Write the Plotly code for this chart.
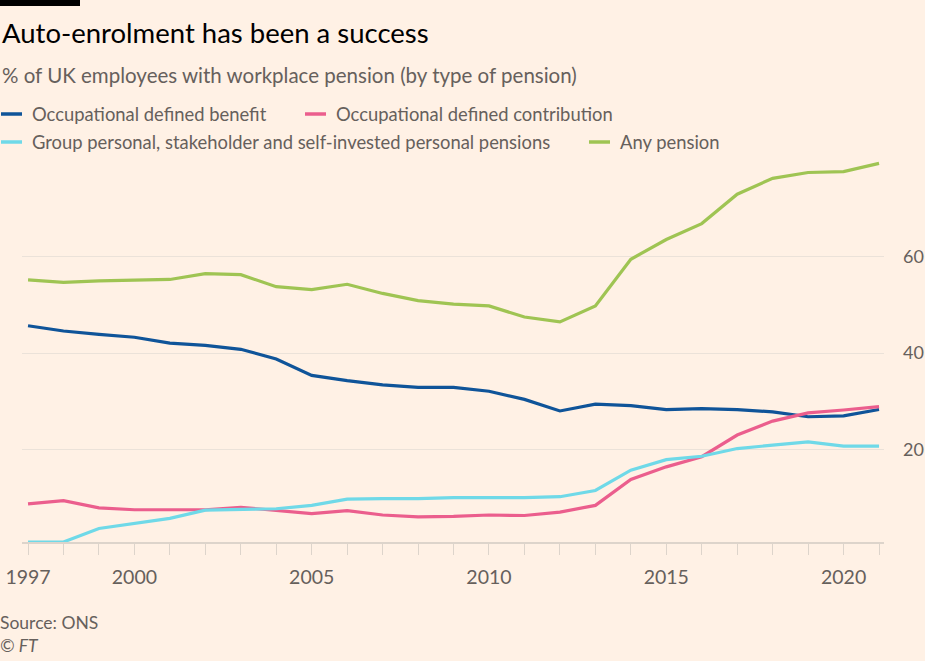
import plotly.graph_objects as go

years = list(range(1997, 2022))

occupational_db = [45.7, 44.6, 43.9, 43.3, 42.1, 41.6, 40.8, 38.8, 35.4, 34.3, 33.4, 32.9,
                   32.9, 32.1, 30.4, 28.0, 29.4, 29.1, 28.3, 28.5, 28.3, 27.8, 26.8, 27.0, 28.3]
occupational_dc = [8.7, 9.4, 7.9, 7.5, 7.5, 7.5, 8.0, 7.4, 6.7, 7.3, 6.4, 6.0,
                   6.1, 6.4, 6.3, 7.0, 8.4, 13.8, 16.4, 18.5, 23.0, 25.9, 27.6, 28.2, 28.9]
group_personal = [0.8, 0.8, 3.6, 4.6, 5.7, 7.4, 7.5, 7.7, 8.4, 9.7, 9.8, 9.8,
                  10.0, 10.0, 10.0, 10.2, 11.5, 15.7, 17.9, 18.6, 20.2, 20.9, 21.6, 20.7, 20.7]
any_pension = [55.2, 54.7, 55.0, 55.2, 55.3, 56.5, 56.3, 53.8, 53.2, 54.3, 52.4, 50.9,
               50.2, 49.8, 47.5, 46.5, 49.8, 59.5, 63.6, 66.9, 73.0, 76.3, 77.5, 77.7, 79.4]

series_names = ["Occupational defined benefit", "Occupational defined contribution",
                "Group personal, stakeholder and self-invested personal pensions", "Any pension"]
series_values = [occupational_db, occupational_dc, group_personal, any_pension]
series_colors = ["#0f5499", "#eb5e8d", "#6fd9e8", "#9fc453"]

x_tick_labels = {1997: "1997", 2000: "2000", 2005: "2005", 2010: "2010", 2015: "2015", 2020: "2020"}
y_ticks = [20, 40, 60]

W, H = 925, 661
ML, MR, MT, MB = 22, 41, 160, 119
PW, PH = W - ML - MR, H - MT - MB

def px(x):
    return (x - ML) / PW

def py(y):
    return (H - MB - y) / PH

FONT = "Lato"
TEXT = "#66605c"
BG = "#fff1e5"

fig = go.Figure()
for name, vals, col in zip(series_names, series_values, series_colors):
    fig.add_trace(go.Scatter(x=years, y=vals, mode="lines", name=name,
                             line=dict(color=col, width=3.2), showlegend=False,
                             hoverinfo="x+y+name"))

shapes = [dict(type="rect", xref="paper", yref="paper", x0=px(0), x1=px(80), y0=py(6), y1=py(0),
               fillcolor="#000000", line=dict(width=0))]
annotations = [
    dict(text="Auto-enrolment has been a success", x=px(0), y=py(33), xref="paper", yref="paper",
         xanchor="left", yanchor="middle", showarrow=False, font=dict(family=FONT, size=27.5, color="#000000")),
    dict(text="% of UK employees with workplace pension (by type of pension)", x=px(0), y=py(75),
         xref="paper", yref="paper", xanchor="left", yanchor="middle", showarrow=False,
         font=dict(family=FONT, size=20.5, color=TEXT)),
    dict(text="Source: ONS", x=px(-2), y=py(622), xref="paper", yref="paper", xanchor="left",
         yanchor="middle", showarrow=False, font=dict(family=FONT, size=17.5, color=TEXT)),
    dict(text="<i>© FT</i>", x=px(-2), y=py(645), xref="paper", yref="paper", xanchor="left",
         yanchor="middle", showarrow=False, font=dict(family=FONT, size=17.5, color=TEXT)),
]

legend_pos = [(1, 114), (305, 114), (1, 142), (589, 142)]
for (lx, ly), name, col in zip(legend_pos, series_names, series_colors):
    shapes.append(dict(type="line", xref="paper", yref="paper", x0=px(lx), x1=px(lx + 21),
                       y0=py(ly), y1=py(ly), line=dict(color=col, width=3.5)))
    annotations.append(dict(text=name, x=px(lx + 29), y=py(ly), xref="paper", yref="paper",
                            xanchor="left", yanchor="middle", showarrow=False,
                            font=dict(family=FONT, size=18.4, color=TEXT)))

fig.update_layout(
    width=W, height=H,
    margin=dict(l=ML, r=MR, t=MT, b=MB, autoexpand=False),
    paper_bgcolor=BG, plot_bgcolor=BG,
    shapes=shapes, annotations=annotations,
    showlegend=False,
    xaxis=dict(range=[1996.83, 2021.14], tickvals=years,
               ticktext=[x_tick_labels.get(y, "") for y in years],
               ticks="outside", ticklen=11, tickcolor="#ddd4cb", tickwidth=1,
               showline=True, linecolor="#ddd4cb", linewidth=1.5,
               showgrid=False, zeroline=False, ticklabelstandoff=6,
               tickfont=dict(family=FONT, size=19.5, color=TEXT)),
    yaxis=dict(range=[0.8, 80.1], side="right", tickvals=y_ticks,
               showgrid=True, gridcolor="#ebe2d9", gridwidth=1, zeroline=False,
               ticks="", ticklabelstandoff=18,
               tickfont=dict(family=FONT, size=18, color=TEXT)),
)

fig.write_html("out.html", config={"displayModeBar": False},
               post_script="document.body.style.margin='0';")
